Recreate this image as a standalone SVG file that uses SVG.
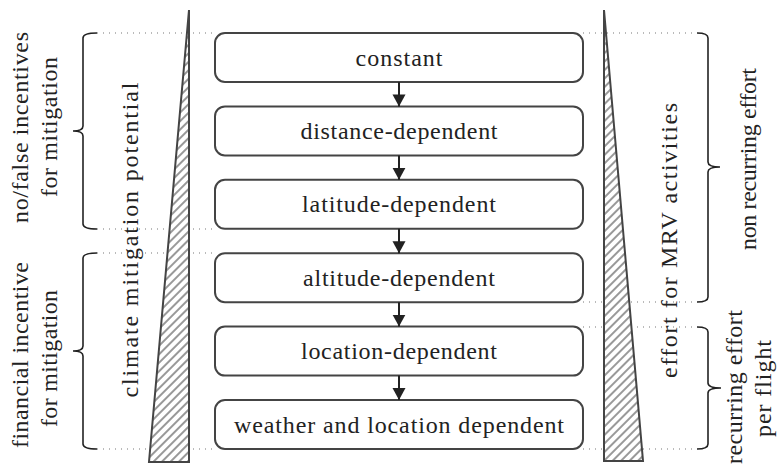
<svg xmlns="http://www.w3.org/2000/svg" width="777" height="465" viewBox="0 0 777 465">
<defs>
<style>
.box{fill:#fff;stroke:#444;stroke-width:2}
.t{font-family:"Liberation Serif","Times New Roman",serif;font-size:24px;fill:#222}
.c{text-anchor:middle}
.dot{stroke:#777;stroke-width:1.2;stroke-dasharray:1 5;fill:none}
.brace{fill:none;stroke:#222;stroke-width:1.6}
.tri{fill:url(#hatch);stroke:#444;stroke-width:2;stroke-linejoin:miter}
.arr{stroke:#222;stroke-width:2;fill:none;marker-end:url(#ah)}
</style>
<pattern id="hatch" width="6" height="6" patternUnits="userSpaceOnUse" patternTransform="rotate(45)">
<rect width="6" height="6" fill="#fff"/>
<line x1="3" y1="-1" x2="3" y2="7" stroke="#333" stroke-width="1"/>
</pattern>
<marker id="ah" markerUnits="userSpaceOnUse" markerWidth="14" markerHeight="14" refX="12" refY="7" orient="auto" viewBox="0 0 14 14">
<path d="M0,0.5 L12,7 L0,13.5 z" fill="#222"/>
</marker>
</defs>
<rect width="777" height="465" fill="#fff"/>

<g id="guides">
<line class="dot" x1="97" y1="33" x2="215" y2="33"/>
<line class="dot" x1="97" y1="229" x2="215" y2="229"/>
<line class="dot" x1="97" y1="253" x2="215" y2="253"/>
<line class="dot" x1="97" y1="449" x2="215" y2="449"/>
<line class="dot" x1="583" y1="33" x2="697" y2="33"/>
<line class="dot" x1="583" y1="302" x2="697" y2="302"/>
<line class="dot" x1="583" y1="327" x2="697" y2="327"/>
<line class="dot" x1="583" y1="449" x2="697" y2="449"/>
</g>

<g id="tri-left">
<polygon class="tri" points="189,10 189,462 149,462"/>
</g>
<g id="tri-right">
<polygon class="tri" points="604,10 604,461 643,461"/>
</g>

<g id="n1"><rect class="box" x="215" y="33" width="368" height="49" rx="10"/><text class="t c" x="399" y="65.5" textLength="87">constant</text></g>
<g id="n2"><rect class="box" x="215" y="106.4" width="368" height="49" rx="10"/><text class="t c" x="399" y="138.9" textLength="197">distance-dependent</text></g>
<g id="n3"><rect class="box" x="215" y="179.8" width="368" height="49" rx="10"/><text class="t c" x="399" y="212.3" textLength="194">latitude-dependent</text></g>
<g id="n4"><rect class="box" x="215" y="253.2" width="368" height="49" rx="10"/><text class="t c" x="399" y="285.7" textLength="192">altitude-dependent</text></g>
<g id="n5"><rect class="box" x="215" y="326.6" width="368" height="49" rx="10"/><text class="t c" x="399" y="359.1" textLength="196">location-dependent</text></g>
<g id="n6"><rect class="box" x="215" y="400" width="368" height="49" rx="10"/><text class="t c" x="399" y="432.5" textLength="330">weather and location dependent</text></g>

<g id="connectors">
<line class="arr" x1="399" y1="82" x2="399" y2="106.4"/>
<line class="arr" x1="399" y1="155.4" x2="399" y2="179.8"/>
<line class="arr" x1="399" y1="228.8" x2="399" y2="253.2"/>
<line class="arr" x1="399" y1="302.2" x2="399" y2="326.6"/>
<line class="arr" x1="399" y1="375.6" x2="399" y2="400"/>
</g>

<g id="braces">
<path class="brace" d="M97,33 Q83,33 83,38 L83,126 Q83,131 73,131 Q83,131 83,136 L83,224 Q83,229 97,229"/>
<path class="brace" d="M97,253 Q83,253 83,258 L83,346 Q83,351 73,351 Q83,351 83,356 L83,444 Q83,449 97,449"/>
<path class="brace" d="M697,33 Q708,33 708,38 L708,162 Q708,167 720,167 Q708,167 708,172 L708,297 Q708,302 697,302"/>
<path class="brace" d="M697,327 Q708,327 708,332 L708,383 Q708,388 721,388 Q708,388 708,393 L708,444 Q708,449 697,449"/>
</g>

<g id="labels">
<text class="t c" transform="translate(28,127.5) rotate(-90)" textLength="191">no/false incentives</text>
<text class="t c" transform="translate(57,127) rotate(-90)" textLength="140">for mitigation</text>
<text class="t c" transform="translate(28,355) rotate(-90)" textLength="186">financial incentive</text>
<text class="t c" transform="translate(57,358.5) rotate(-90)" textLength="137">for mitigation</text>
<text class="t c" transform="translate(138,240) rotate(-90)" textLength="315">climate mitigation potential</text>
<text class="t c" transform="translate(677,240.5) rotate(-90)" textLength="275">effort for MRV activities</text>
<text class="t c" transform="translate(756,159) rotate(-90)" textLength="182">non recurring effort</text>
<text class="t c" transform="translate(742,387) rotate(-90)" textLength="154">recurring effort</text>
<text class="t c" transform="translate(771,388.5) rotate(-90)" textLength="97">per flight</text>
</g>
</svg>
